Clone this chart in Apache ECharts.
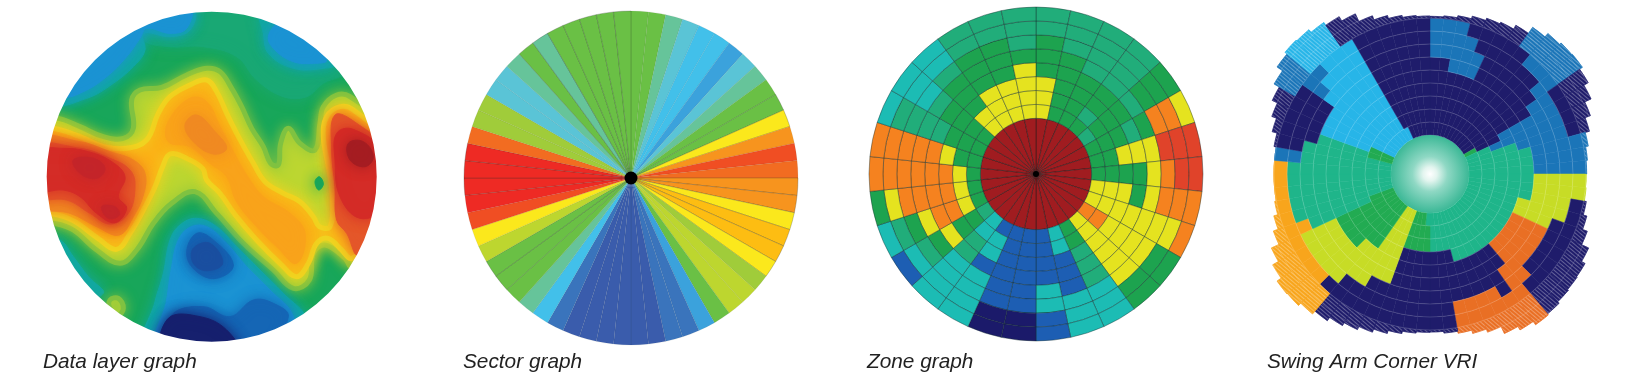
<!DOCTYPE html>
<html>
<head>
<meta charset="utf-8">
<style>
  html, body { margin: 0; padding: 0; background: #fff; }
  #chart { width: 1630px; height: 388px; }
</style>
<script src="https://cdn.jsdelivr.net/npm/echarts@6/dist/echarts.min.js"></script>
</head>
<body>
<div id="chart"></div>
<script>
const captions = ['Data layer graph', 'Sector graph', 'Zone graph', 'Swing Arm Corner VRI']

// ---- data layer graph: iso-bands (axis units 0-1080 / 0-1140)
const tealTop = [[330, 60], [340, 120], [420, 140], [520, 140], [620, 170], [680, 240], [760, 290], [830, 290], [880, 250], [930, 230], [950, 220], [900, 100], [700, 20], [400, 20]]
const tealTopLeft = [[70, 310], [170, 295], [250, 250], [320, 190], [345, 150], [340, 100], [420, 110], [480, 90], [490, 30], [300, 20], [100, 150]]
const blueTopLeft = [[100, 290], [160, 275], [230, 230], [290, 170], [330, 115], [350, 85], [420, 100], [470, 85], [480, 20], [340, 30], [160, 130], [70, 250]]
const tealTopRight = [[700, 100], [715, 160], [790, 205], [880, 205], [920, 190], [860, 90], [740, 30], [690, 40]]
const blueTopRight = [[715, 110], [735, 150], [790, 185], [850, 190], [890, 180], [820, 100], [750, 70]]
const tealLowLeft = [[90, 720], [130, 770], [175, 830], [220, 880], [120, 900], [40, 720]]
const limeLowLeft = [[240, 900], [265, 895], [280, 925], [265, 945], [240, 925]]
const warmEdge = [[85, 355], [150, 380], [220, 410], [280, 415], [310, 385], [305, 300], [330, 270], [395, 262], [470, 225], [530, 205], [570, 215], [605, 265], [635, 320], [665, 385], [700, 440], [722, 490], [745, 495], [752, 430], [775, 385], [810, 430], [855, 450], [870, 370], [880, 320], [920, 285], [960, 290], [1060, 380], [1100, 560], [1030, 720], [965, 800], [945, 775], [885, 735], [850, 760], [838, 840], [790, 865], [730, 810], [640, 730], [560, 640], [495, 575], [425, 610], [370, 670], [320, 750], [270, 790], [200, 750], [130, 690], [75, 670], [0, 660], [0, 350]]
const warmCore = [[70, 385], [150, 410], [220, 440], [290, 445], [350, 420], [385, 340], [420, 290], [480, 255], [530, 240], [560, 275], [590, 340], [620, 400], [670, 490], [705, 545], [760, 580], [810, 605], [850, 650], [868, 680], [900, 680], [908, 600], [895, 500], [880, 410], [890, 350], [930, 320], [970, 330], [1060, 420], [1090, 600], [1020, 720], [965, 775], [935, 750], [895, 715], [860, 730], [835, 790], [800, 830], [750, 790], [680, 720], [620, 650], [570, 580], [530, 540], [518, 505], [470, 475], [420, 462], [398, 500], [375, 560], [340, 630], [300, 700], [260, 748], [200, 712], [130, 662], [70, 642], [0, 640], [0, 385]]
const midOrange = [[415, 365], [480, 295], [530, 305], [570, 380], [610, 455], [650, 525], [700, 590], [780, 640], [825, 700], [800, 790], [740, 740], [680, 680], [620, 605], [590, 530], [540, 490], [480, 440], [415, 425]]
const midPeak = [[465, 375], [500, 345], [555, 395], [590, 445], [550, 462], [490, 425]]
const leftOrange = [[0, 415], [150, 425], [240, 455], [310, 480], [345, 520], [340, 585], [310, 650], [268, 705], [200, 680], [120, 640], [0, 612]]
const leftRedOrange = [[0, 440], [150, 445], [240, 475], [300, 510], [315, 560], [295, 640], [240, 672], [180, 640], [110, 600], [0, 590]]
const leftRed = [[20, 455], [100, 445], [175, 455], [245, 485], [285, 530], [265, 590], [290, 625], [255, 668], [200, 640], [150, 590], [100, 570], [20, 570]]
const leftPeakA = [[130, 480], [190, 475], [225, 505], [200, 535], [150, 520]]
const leftPeakB = [[215, 620], [255, 620], [268, 645], [235, 655]]
const rightOrange = [[915, 345], [980, 370], [1060, 450], [1060, 650], [985, 765], [950, 700], [920, 660], [915, 560], [905, 450]]
const rightRed = [[920, 400], [970, 388], [1060, 460], [1060, 620], [990, 655], [930, 590], [915, 480]]
const rightPeak = [[955, 430], [1000, 425], [1030, 470], [1005, 500], [960, 480]]
const greenSpot = [[855, 545], [868, 530], [880, 552], [866, 570]]
const tealLow = [[345, 1050], [375, 905], [400, 820], [420, 720], [450, 675], [500, 655], [560, 680], [620, 740], [690, 810], [760, 880], [830, 960], [800, 1050]]
const blueLow = [[385, 1050], [410, 900], [425, 800], [445, 720], [480, 682], [530, 680], [590, 730], [650, 800], [720, 870], [790, 950], [780, 1050]]
const deepLowA = [[470, 760], [500, 700], [550, 720], [610, 795], [560, 835], [500, 815]]
const deepLowB = [[425, 945], [520, 920], [600, 950], [670, 900], [730, 910], [775, 950], [700, 1050], [400, 1050]]
const darkLow = [[490, 745], [540, 730], [578, 790], [530, 812], [490, 790]]
const navyLow = [[415, 955], [510, 950], [590, 990], [625, 1060], [400, 1060]]

// painted in this order, [outline, level]
const layerBands = [
  [tealTop, 'teal'], [tealTopLeft, 'cyan'], [blueTopLeft, 'sky'],
  [tealTopRight, 'cyan'], [blueTopRight, 'sky'], [tealLowLeft, 'cyan'], [limeLowLeft, 'lime'],
  [warmEdge, 'lime'], [warmCore, 'amber'], [midOrange, 'amber2'], [midPeak, 'orange'],
  [leftOrange, 'orange'], [leftRedOrange, 'redOrange'], [leftRed, 'red'], [leftPeakA, 'deepRed'], [leftPeakB, 'deepRed'],
  [rightOrange, 'redOrange'], [rightRed, 'red'], [rightPeak, 'maroon'], [greenSpot, 'green'],
  [tealLow, 'cyan'], [blueLow, 'sky'], [deepLowA, 'blue'], [deepLowB, 'blue'], [darkLow, 'darkBlue'], [navyLow, 'navy'],
]
const layerColors = {
  green: '#18a65a', teal: '#19a874', cyan: '#12a8a0', sky: '#1b93d3', blue: '#1566b5', darkBlue: '#1a4fa0', navy: '#16206e',
  lime: '#bcd631', amber: '#fbb117', amber2: '#f9a31b', orange: '#f08a22', redOrange: '#e4572a', red: '#d42c27', deepRed: '#c4252a', maroon: '#a51d22',
}
const layerEdges = { lime: '#7fc241', amber: '#f0d320' }

// ---- sector graph: one level per 6 degree sector, clockwise from the top
const sectorLevels = [
  6, 6, 5, 4, 3, 3, 2, 4, 5, 6,
  6, 9, 11, 13, 12, 11, 11, 9, 10, 10,
  9, 7, 8, 8, 6, 2, 1, 1, 0, 0,
  0, 0, 0, 0, 1, 3, 5, 6, 6, 6,
  8, 9, 13, 14, 14, 14, 14, 12, 7, 7,
  4, 4, 5, 6, 5, 6, 6, 6, 6, 6,
]
const sectorPalette = ['#3a5cac', '#3a74bc', '#3ba2dc', '#42c0ea', '#5ac4d6', '#66c49a', '#6ac045', '#a0cc3a', '#bdd62f', '#fbe81c', '#fdbd12', '#f7941e', '#f26c21', '#f04e23', '#ee2a24']
// sectors whose dividing lines show up darker
const sectorRuled = [10, 11, 15, 16, 17, 18, 19, 20, 38, 39, 44, 45, 46, 53, 54, 55, 56, 57, 58, 59]

// ---- zone graph: 30 sectors of 12 degrees, each string is ring 1..8 from inside out
const zoneSectors = [
  'YYYGGGTT', 'GGGGGTTT', 'GGGGTTTT', 'GTGGTTTT', 'TGGGTGGG', 'GGGTGOOY', 'GGYYYRRR', 'GGGGYORR',
  'YYYGYOOO', 'YYYYYYYO', 'OOYYYYGG', 'YYYYYYGG', 'GGTTTCCC', 'CCBBBCCC', 'BBBBCCBB', 'BBBBBBNN',
  'BBBBBBNN', 'BCCBCCCC', 'CCTTCCCC', 'TGGYGTCB', 'GYOOYGTC', 'GYOOOOYG', 'GYOOOOOO', 'GGYOOOOO',
  'GGGTTTTC', 'GGGGTCCC', 'YYGGGTCC', 'YYYGGGTT', 'YYYGGGTT', 'YYYYGTTT',
]
const zoneCenterDepth = 4
const zonePalette = { G: '#1da34f', T: '#21ad7a', C: '#1cbcb4', Y: '#e5e31f', O: '#f5821f', R: '#e0432a', B: '#1d5eb3', N: '#1b1a6a' }
const zoneCenterColor = '#a01c20'

// ---- swing arm corner VRI: 72 sectors of 5 degrees, ring 1..9 then the corner spill
const swingSectors = [
  'NNNNNNBBBN', 'NNNNNNBBBN', 'NNNNNBBBBN', 'NNNNNBBBNN', 'NNNNNBBNNN', 'NNNNNNNNNN', 'NNNNNNNNNN', 'NNNNNNNNNB',
  'NNNNNNNNBB', 'NNNNNNNNBB', 'NNNNNNNBBB', 'NNNNNNBBNN', 'DNNBBBBBNN', 'EEBBBBBBNN', 'EEEEBBBBNN', 'EEEEEBBBBB',
  'EEEEEBBBBB', 'EEEEEBBBBB', 'EEEEEVVVVV', 'EEEEEVVVVV', 'EEEEEVVVNN', 'EEEEVVVVNN', 'EEEEVVVNNN', 'EEEEOOONNN',
  'EEEEOOONNN', 'EEEEOOONNN', 'EEEEOOONNN', 'EEEEOOOONN', 'EEEENNOOOO', 'EEEENNNNOO', 'EEEENNNOOO', 'EEEENNNOOO',
  'EEEENNNOOO', 'EEENNNNOOO', 'EEENNNNNNN', 'EEENNNNNNN', 'EDDNNNNNNN', 'DDDNNNNNNN', 'DDDNNNNNNN', 'DDDNNNNNNN',
  'VVVVVVNNNN', 'VVVVVVNNNN', 'VVVVVVVNNN', 'DDDDVVVNNN', 'DDDDVVVVNA', 'DDDDDVVVAA', 'DDDDDVVVAA', 'DDDDDVVVAA',
  'DDDDDVVVAA', 'DDEEEEEAAA', 'EEEEEEEEAA', 'EEEEEEEEAA', 'EEEEEEEEAA', 'EEEEEEEEAA', 'EEEEEEEEAA', 'EEEEEEEBBB',
  'EEEEEEENNN', 'DDEEEENNNN', 'DDLLLLNNNN', 'LLLLLLNNNN', 'LLLLLLNNNB', 'LLLLLLLBBB', 'LLLLLLLLBL', 'LLLLLLLLLL',
  'LLLLLLLLLL', 'LLLLLLLLLN', 'LNNNNNNNNN', 'NNNNNNNNNN', 'NNNNNNNNNN', 'NNNNNNNNNN', 'NNNNNNNNNN', 'NNNNNNNNNN',
]
// outer reach of the field per sector, radius units
const swingRim = [
  473, 476, 482, 490, 497, 502, 515, 537, 550, 556, 558, 548,
  533, 512, 495, 482, 474, 470, 468, 470, 476, 487, 502, 525,
  537, 539, 542, 548, 552, 540, 528, 505, 495, 485, 479, 474,
  475, 479, 486, 495, 505, 515, 525, 537, 548, 558, 560, 545,
  525, 500, 485, 473, 467, 465, 466, 468, 475, 490, 505, 522,
  540, 560, 568, 565, 555, 545, 530, 505, 492, 483, 477, 474,
]
const swingDiscDepth = 117
const swingRingDepth = 39
const swingPalette = { N: '#1f1c6b', B: '#1b75b8', L: '#27b5e8', E: '#1fb58a', D: '#22ab52', V: '#c7dc26', A: '#f8a51c', O: '#e96f24' }

const chart = echarts.init(document.getElementById('chart'))

function renderBand(params, api) {
  const band = layerBands[api.value(0)]
  const level = band[1]
  const edge = layerEdges[level]
  return {
    type: 'polygon',
    shape: { points: band[0].map((p) => api.coord(p)), smooth: 0.4 },
    style: {
      fill: layerColors[level],
      stroke: edge || layerColors[level],
      lineWidth: edge ? 5 : 1,
      shadowBlur: 13,
      shadowColor: edge || layerColors[level],
    },
  }
}

function polarAxes(count, max) {
  return {
    angle: {
      polarIndex: count,
      type: 'category',
      startAngle: 90,
      axisLine: { show: false },
      axisTick: { show: false },
      axisLabel: { show: false },
      splitLine: { show: false },
    },
    radius: {
      polarIndex: count,
      type: 'value',
      min: 0,
      max: max,
      axisLine: { show: false },
      axisTick: { show: false },
      axisLabel: { show: false },
      splitLine: { show: false },
    },
  }
}

const sectorAxes = polarAxes(0, 1)
sectorAxes.angle.data = sectorLevels.map((v, i) => i)
const zoneAxes = polarAxes(1, 12)
zoneAxes.angle.data = zoneSectors.map((v, i) => i)
const swingAxes = polarAxes(2, 570)
swingAxes.angle.data = swingSectors.map((v, i) => i)
swingAxes.radius.interval = swingRingDepth
swingAxes.radius.z = 4
swingAxes.radius.splitLine = { show: true, lineStyle: { color: 'rgba(255,255,255,.16)', width: 1 } }

const series = []

series.push({
  type: 'pie',
  center: [211.7, 176.7],
  radius: [0, 166],
  silent: true,
  label: { show: false },
  itemStyle: { color: layerColors.green },
  data: [1],
  z: 1,
})
series.push({
  type: 'custom',
  renderItem: renderBand,
  data: layerBands.map((b, i) => [i]),
  silent: true,
  clip: false,
  z: 2,
})
series.push({
  type: 'pie',
  center: [211.7, 176.7],
  radius: [165, 240],
  silent: true,
  label: { show: false },
  itemStyle: { color: '#fff' },
  data: [1],
  z: 5,
})

series.push({
  type: 'bar',
  coordinateSystem: 'polar',
  polarIndex: 0,
  barCategoryGap: '0%',
  silent: true,
  data: sectorLevels.map((level, i) => ({
    value: 1,
    itemStyle: {
      color: sectorPalette[level],
      borderColor: sectorRuled.includes(i) ? 'rgba(40,50,40,.42)' : 'rgba(40,50,40,.12)',
      borderWidth: 0.6,
    },
  })),
})
series.push({
  type: 'pie',
  center: [631, 178],
  radius: [0, 6.5],
  silent: true,
  label: { show: false },
  itemStyle: { color: '#000' },
  data: [1],
  z: 4,
})

series.push({
  type: 'bar',
  coordinateSystem: 'polar',
  polarIndex: 1,
  stack: 'zone',
  barCategoryGap: '0%',
  silent: true,
  itemStyle: { color: zoneCenterColor, borderColor: 'rgba(30,25,25,.7)', borderWidth: 0.7 },
  data: zoneSectors.map(() => zoneCenterDepth),
})
for (let ring = 0; ring < 8; ring++) {
  series.push({
    type: 'bar',
    coordinateSystem: 'polar',
    polarIndex: 1,
    stack: 'zone',
    barCategoryGap: '0%',
    silent: true,
    itemStyle: { borderColor: 'rgba(20,45,45,.6)', borderWidth: 0.7 },
    data: zoneSectors.map((s) => ({ value: 1, itemStyle: { color: zonePalette[s[ring]] } })),
  })
}
series.push({
  type: 'pie',
  center: [1036, 174],
  radius: [0, 3],
  silent: true,
  label: { show: false },
  itemStyle: { color: '#000' },
  data: [1],
  z: 4,
})

series.push({
  type: 'bar',
  coordinateSystem: 'polar',
  polarIndex: 2,
  stack: 'swing',
  barCategoryGap: '0%',
  silent: true,
  itemStyle: { color: swingPalette.E },
  data: swingSectors.map(() => swingDiscDepth),
})
for (let ring = 0; ring < 10; ring++) {
  series.push({
    type: 'bar',
    coordinateSystem: 'polar',
    polarIndex: 2,
    stack: 'swing',
    barCategoryGap: '0%',
    silent: true,
    data: swingSectors.map((s, i) => {
      const color = swingPalette[s[ring]]
      if (ring < 9) {
        return { value: swingRingDepth, itemStyle: { color: color, borderColor: color, borderWidth: 0.5 } }
      }
      // corner spill: the field goes thin and hatched out here
      return {
        value: Math.max(swingRim[i] - swingDiscDepth - 9 * swingRingDepth, 0),
        itemStyle: {
          color: color,
          borderColor: color,
          borderWidth: 0.5,
          decal: { symbol: 'rect', dashArrayX: [1, 0], dashArrayY: [1, 2], rotation: 0.7, color: 'rgba(255,255,255,.3)' },
        },
      }
    }),
  })
}
series.push({
  type: 'pie',
  center: [1430, 174],
  radius: [0, 39],
  silent: true,
  label: { show: false },
  itemStyle: {
    color: new echarts.graphic.RadialGradient(0.5, 0.5, 0.5, [
      { offset: 0, color: '#ffffff' },
      { offset: 0.18, color: '#e3f5ef' },
      { offset: 0.45, color: '#8fd8c4' },
      { offset: 1, color: '#3bb896' },
    ]),
  },
  data: [1],
  z: 5,
})

const captionLefts = [43, 463, 867, 1267]

const option = {
  animation: false,
  backgroundColor: '#fff',
  title: captions.map((text, i) => ({
    text: text,
    left: captionLefts[i],
    top: 352,
    z: 10,
    padding: 0,
    textStyle: { fontFamily: 'Liberation Sans', fontStyle: 'italic', fontWeight: 'normal', fontSize: 20.8, color: '#222' },
  })),
  grid: { left: 30, top: 0, width: 360, height: 380 },
  xAxis: { type: 'value', min: 0, max: 1080, show: false },
  yAxis: { type: 'value', min: 0, max: 1140, inverse: true, show: false },
  polar: [
    { center: [631, 178], radius: 167 },
    { center: [1036, 174], radius: 167 },
    { center: [1430, 174], radius: 190 },
  ],
  angleAxis: [sectorAxes.angle, zoneAxes.angle, swingAxes.angle],
  radiusAxis: [sectorAxes.radius, zoneAxes.radius, swingAxes.radius],
  series: series,
}

chart.setOption(option)
</script>
</body>
</html>
